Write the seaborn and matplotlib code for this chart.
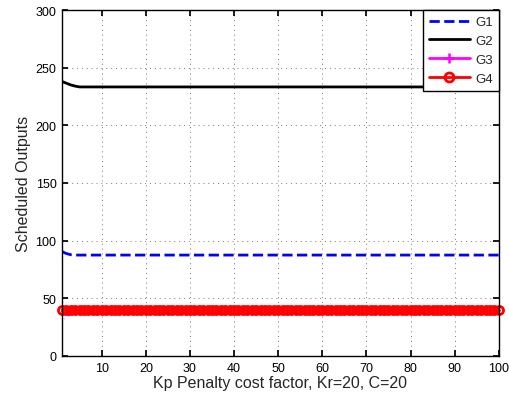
import matplotlib
matplotlib.use("Agg")
import matplotlib.pyplot as plt
from matplotlib.lines import Line2D
import seaborn as sns
import pandas as pd

x = list(range(1, 101))
g1 = [90.5, 88.8, 87.8, 87.5] + [87.5] * 96
g2 = [238.0, 236.5, 235.0, 234.0, 233.3] + [233.3] * 95
g3 = [31.5, 34.0, 37.0, 39.5, 40.0] + [40.0] * 95
g4 = [40.0] * 100
names = ["G1", "G2", "G3", "G4"]
xticks = [10, 20, 30, 40, 50, 60, 70, 80, 90, 100]
yticks = [0, 50, 100, 150, 200, 250, 300]

sns.set_theme(style="white")
plt.rcParams['font.family'] = ['Liberation Sans', 'DejaVu Sans']

fig = plt.figure(figsize=(5.1, 4.02), dpi=100)
ax = fig.add_axes([0.1216, 0.112, 0.978 - 0.1216, 0.9726 - 0.112])

styles = {
    "G1": dict(color="#0000ff", linestyle="--", linewidth=2.0, marker="None"),
    "G2": dict(color="black", linestyle="-", linewidth=2.0, marker="None"),
    "G3": dict(color="#ff00ff", linestyle="-", linewidth=2.0, marker="+", markersize=7,
               markeredgewidth=1.8),
    "G4": dict(color="#ff0000", linestyle="-", linewidth=2.0, marker="o", markersize=5.8,
               markerfacecolor="none", markeredgecolor="#ff0000", markeredgewidth=2.0),
}
for name, vals in zip(names, [g1, g2, g3, g4]):
    df = pd.DataFrame({"x": x, "y": vals})
    n_before = len(ax.lines)
    sns.lineplot(data=df, x="x", y="y", ax=ax, color=styles[name]["color"], legend=False)
    ax.lines[n_before].set(**styles[name])
    if name in ("G3", "G4"):
        ax.lines[n_before].set_clip_on(False)

ax.set_xlim(1, 100)
ax.set_ylim(0, 300)
ax.set_xticks(xticks)
ax.set_yticks(yticks)
ax.grid(True, linestyle=(0, (1, 4)), color="#777777", linewidth=0.7)
ax.tick_params(direction="in", length=4, labelsize=9, colors="black", top=True, right=True,
               bottom=True, left=True, pad=4)
for s in ax.spines.values():
    s.set_color("black")
    s.set_linewidth(1.0)
ax.set_xlabel("Kp Penalty cost factor, Kr=20, C=20", fontsize=11.5, labelpad=1)
ax.set_ylabel("Scheduled Outputs", fontsize=11.5, labelpad=3)

handles = []
for name in names:
    st = dict(styles[name])
    if name == "G4":
        st["markersize"] = 6.5
    handles.append(Line2D([0, 1], [0, 0], **st))
leg = ax.legend(handles, names, loc="upper right", borderaxespad=0, fontsize=9.5, frameon=True,
                fancybox=False, framealpha=1, handlelength=3.1, labelspacing=0.5,
                borderpad=0.45, handletextpad=0.4, numpoints=1)
leg.get_frame().set_edgecolor("black")
leg.get_frame().set_linewidth(1.0)
leg.get_frame().set_facecolor("white")
leg.set_zorder(10)

fig.savefig("out.png", dpi=100)
